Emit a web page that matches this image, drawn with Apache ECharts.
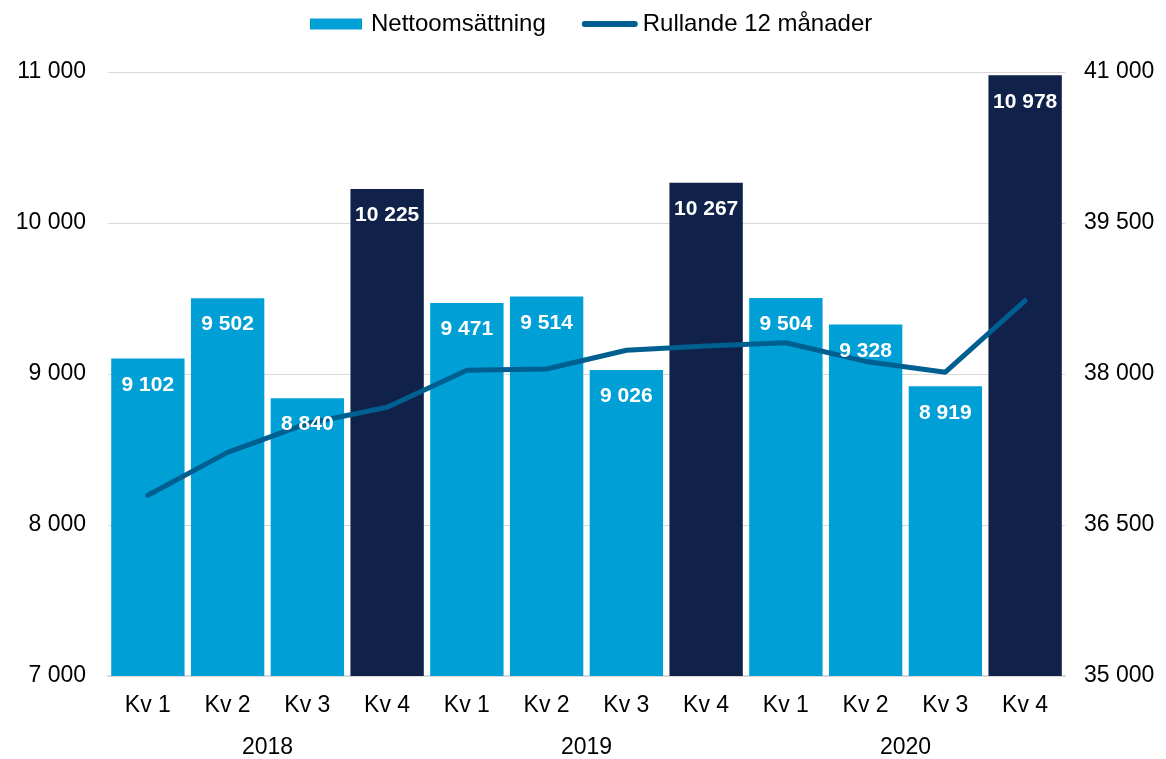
<!DOCTYPE html>
<html>
<head>
<meta charset="utf-8">
<script src="https://cdn.jsdelivr.net/npm/echarts@6/dist/echarts.min.js"></script>
<style>
  html, body { margin: 0; padding: 0; background: #fff; }
  #chart { width: 1166px; height: 759px; }
</style>
</head>
<body>
<div id="chart"></div>
<script>
const quarters = ['Kv 1', 'Kv 2', 'Kv 3', 'Kv 4', 'Kv 1', 'Kv 2', 'Kv 3', 'Kv 4', 'Kv 1', 'Kv 2', 'Kv 3', 'Kv 4']
const years = ['2018', '2019', '2020']
const netSales = [9102, 9502, 8840, 10225, 9471, 9514, 9026, 10267, 9504, 9328, 8919, 10978]
const rolling12 = [36795, 37221, 37509, 37669, 38038, 38050, 38236, 38278, 38311, 38125, 38018, 38729]

const light = '#00A0D6'
const dark = '#10224A'
const lineColor = '#005F91'
const font = 'Liberation Sans, Arial, sans-serif'

// mellanslag som tusentalsavgränsare
function fmt (v) {
  return String(Math.round(v)).replace(/\B(?=(\d{3})+(?!\d))/g, ' ')
}

// legendikoner i en 56x14-ruta (tomma delbanor håller rutans storlek)
const rectIcon = 'path://M0,0L0,0M56,14L56,14M0,1.5L52,1.5L52,12.5L0,12.5Z'
const lineIcon = 'path://M0,0L0,0M56,14L56,14M3,4L53,4A3,3,0,0,1,53,10L3,10A3,3,0,0,1,3,4Z'

const chart = echarts.init(document.getElementById('chart'))
const option = {
  animation: false,
  textStyle: { fontFamily: font },
  legend: {
    top: 7,
    left: 305,
    itemGap: 36,
    itemWidth: 56,
    itemHeight: 14,
    textStyle: { fontSize: 24, color: '#000', fontFamily: font },
    data: [
      { name: 'Nettoomsättning', icon: rectIcon, itemStyle: { color: light } },
      { name: 'Rullande 12 månader', icon: lineIcon, itemStyle: { color: lineColor } }
    ]
  },
  grid: { left: 108, right: 101, top: 72, bottom: 82 },
  xAxis: [{
    type: 'category',
    data: quarters,
    axisLine: { lineStyle: { color: '#d9d9d9', width: 2 } },
    axisTick: { show: false },
    axisLabel: { fontSize: 23, color: '#000', margin: 18 }
  }, {
    type: 'category',
    data: years,
    position: 'bottom',
    offset: 52,
    axisLine: { show: false },
    axisTick: { show: false },
    axisLabel: { fontSize: 23, color: '#000' }
  }],
  yAxis: [{
    type: 'value',
    min: 7000,
    max: 11000,
    interval: 1000,
    axisLine: { show: false },
    axisTick: { show: false },
    splitLine: { lineStyle: { color: '#d9d9d9', width: 1 } },
    axisLabel: { fontSize: 23, color: '#000', margin: 22, formatter: fmt }
  }, {
    type: 'value',
    min: 35000,
    max: 41000,
    interval: 1500,
    axisLine: { show: false },
    axisTick: { show: false },
    splitLine: { show: false },
    axisLabel: { fontSize: 23, color: '#000', margin: 19, formatter: fmt }
  }],
  series: [{
    name: 'Nettoomsättning',
    type: 'bar',
    barCategoryGap: '8%',
    z: 2,
    data: netSales.map((v, i) => ({
      value: v,
      itemStyle: { color: i % 4 === 3 ? dark : light }
    })),
    itemStyle: { color: light }
  }, {
    name: 'Rullande 12 månader',
    type: 'line',
    yAxisIndex: 1,
    symbol: 'none',
    z: 3,
    lineStyle: { color: lineColor, width: 5, cap: 'round' },
    itemStyle: { color: lineColor },
    data: rolling12
  }, {
    // osynliga staplar som bara bär etiketterna ovanför linjen
    name: 'etiketter',
    type: 'bar',
    barGap: '-100%',
    barCategoryGap: '8%',
    z: 4,
    silent: true,
    itemStyle: { color: 'rgba(0,0,0,0)' },
    data: netSales,
    label: {
      show: true,
      position: 'insideTop',
      distance: 16,
      color: '#fff',
      fontWeight: 'bold',
      fontSize: 21,
      formatter: p => fmt(p.value)
    }
  }]
}
chart.setOption(option)
</script>
</body>
</html>
